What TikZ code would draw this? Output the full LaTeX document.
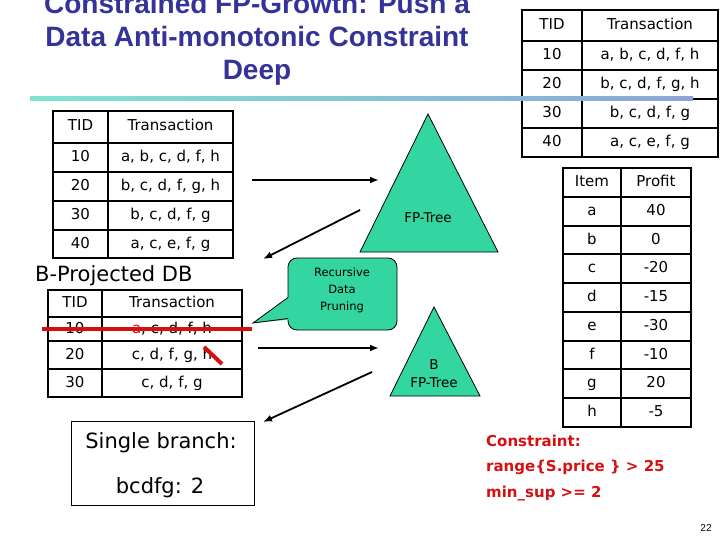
\documentclass[tikz,border=0pt]{standalone}
\usepackage{fontspec}
\setmainfont{DejaVu Sans}
\newfontfamily\titlefont{Liberation Sans}
\usetikzlibrary{arrows.meta}
\definecolor{titleblue}{RGB}{51,51,153}
\definecolor{tealfill}{RGB}{51,214,160}
\definecolor{redc}{RGB}{214,16,16}
\definecolor{lineA}{RGB}{128,228,208}
\definecolor{lineB}{RGB}{140,165,215}
\tikzset{
  titlestyle/.style={font=\titlefont\bfseries\fontsize{28}{32}\selectfont, text=titleblue, inner sep=0pt, anchor=base},
  tbl/.style={font=\fontsize{15}{18}\selectfont, inner sep=0pt, text height=11pt, text depth=3pt, anchor=center},
  outerln/.style={line width=2.2pt, black},
  innerln/.style={line width=1.5pt, black},
  arr/.style={line width=1.8pt, -{Latex[length=9pt,width=7pt]}},
  tri/.style={fill=tealfill, draw=black, line width=0.8pt},
  trilabel/.style={font=\fontsize{13.5}{18}\selectfont, inner sep=0pt, align=center},
  calltext/.style={font=\fontsize{11.5}{17}\selectfont, inner sep=0pt, align=center},
  bigtext/.style={font=\fontsize{21}{25}\selectfont, inner sep=0pt},
  constr/.style={font=\bfseries\fontsize{15}{18}\selectfont, text=redc, inner sep=0pt, anchor=west},
  redstrike/.style={line width=4pt, redc},
}
\begin{document}
\begin{tikzpicture}[x=1pt,y=-1pt]
\useasboundingbox[fill=white] (0,0) rectangle (720,540);

% ---------- title ----------
\node[titlestyle] (t1) at (257,14) {Constrained FP-Growth: Push a};
\node[titlestyle] (t2) at (257,47) {Data Anti-monotonic Constraint};
\node[titlestyle] (t3) at (257,80) {Deep};

% ---------- top-right table ----------
\fill[white] (522,10) rectangle (718,157);
\foreach \y in {41,70,99,128} \draw[innerln] (522,\y) -- (718,\y);
\draw[innerln] (582,10) -- (582,157);
\draw[outerln] (522,10) rectangle (718,157);
\foreach \yc/\a/\b [count=\i] in {25.5/TID/Transaction,55.5/10/{a, b, c, d, f, h},84.5/20/{b, c, d, f, g, h},113.5/30/{b, c, d, f, g},142.5/40/{a, c, e, f, g}} {
  \node[tbl] (ra\i) at (552,\yc) {\a};
  \node[tbl] (rb\i) at (650,\yc) {\b};
}

% ---------- gradient rule ----------
\shade[left color=lineA, right color=lineB] (30,97) rectangle (693,100.5);

% ---------- top-left table ----------
\fill[white] (53,111) rectangle (233,258);
\foreach \y in {143,172,201,230} \draw[innerln] (53,\y) -- (233,\y);
\draw[innerln] (108,111) -- (108,258);
\draw[outerln] (53,111) rectangle (233,258);
\foreach \yc/\a/\b [count=\i] in {127/TID/Transaction,157.5/10/{a, b, c, d, f, h},186.5/20/{b, c, d, f, g, h},215.5/30/{b, c, d, f, g},244/40/{a, c, e, f, g}} {
  \node[tbl] (la\i) at (80.5,\yc) {\a};
  \node[tbl] (lb\i) at (170.5,\yc) {\b};
}

% ---------- B-projected DB ----------
\node[bigtext, anchor=west] (bproj) at (35,276) {B-Projected DB};
\fill[white] (48,290) rectangle (242,397);
\foreach \y in {317,341,369} \draw[innerln] (48,\y) -- (242,\y);
\draw[innerln] (102,290) -- (102,397);
\draw[outerln] (48,290) rectangle (242,397);
\foreach \yc/\a/\b [count=\i] in {303.5/TID/Transaction,329.5/10/{\textcolor{redc}{a}, c, d, f, h},355.5/20/{c, d, f, g, h},383/30/{c, d, f, g}} {
  \node[tbl] (ba\i) at (75,\yc) {\a};
  \node[tbl] (bb\i) at (172,\yc) {\b};
}
\coordinate (rs1) at (42,329);
\coordinate (rs2) at (252,329);
\draw[redstrike] (rs1) -- (rs2);
\coordinate (sl1) at (204,347);
\coordinate (sl2) at (222,364);
\draw[redstrike] (sl1) -- (sl2);

% ---------- triangles ----------
\draw[tri] (428,114) -- (498,252) -- (360,252) -- cycle;
\node[trilabel] (fptree) at (428,218) {FP-Tree};
\draw[tri] (434,307) -- (480,396) -- (390,396) -- cycle;
\node[trilabel] (bfptree) at (434,374) {B\\FP-Tree};

% ---------- callout ----------
\draw[fill=tealfill, draw=black, line width=0.8pt, rounded corners=9pt] (288,258) rectangle (397,330);
\coordinate (ctip) at (253,323);
\fill[tealfill] (290,296.5) -- (ctip) -- (290,319.5) -- cycle;
\draw[line width=0.8pt] (288,297.5) -- (ctip) -- (288,318.5);
\node[calltext] (callout) at (342,290) {Recursive\\Data\\Pruning};

% ---------- arrows ----------
\coordinate (a1s) at (252,180);
\coordinate (a1e) at (379,180);
\draw[arr] (a1s) -- (a1e);
\coordinate (a2s) at (360,210);
\coordinate (a2e) at (263,259);
\draw[arr] (a2s) -- (a2e);
\coordinate (a3s) at (258,348);
\coordinate (a3e) at (379,348);
\draw[arr] (a3s) -- (a3e);
\coordinate (a4s) at (372,372);
\coordinate (a4e) at (263,422);
\draw[arr] (a4s) -- (a4e);

% ---------- single branch box ----------
\draw[line width=0.9pt] (71,421) rectangle (254,505);
\node[bigtext] (sb1) at (161,443) {Single branch:};
\node[bigtext] (sb2) at (160,488) {bcdfg: 2};

% ---------- profit table ----------
\fill[white] (563,168) rectangle (691,427);
\foreach \y in {197,226,254,283,312,341,369,398} \draw[innerln] (563,\y) -- (691,\y);
\draw[innerln] (621,168) -- (621,427);
\draw[outerln] (563,168) rectangle (691,427);
\foreach \yc/\a/\b [count=\i] in {182.5/Item/Profit,211.5/a/40,240/b/0,268.5/c/-20,297.5/d/-15,326.5/e/-30,355/f/-10,383.5/g/20,412.5/h/-5} {
  \node[tbl] (pa\i) at (592,\yc) {\a};
  \node[tbl] (pb\i) at (656,\yc) {\b};
}

% ---------- constraint ----------
\node[constr] (c1) at (486,441) {Constraint:};
\node[constr] (c2) at (486,467) {range\{S.price \} > 25};
\node[constr] (c3) at (486,494) {min\_sup >= 2};

% ---------- page number ----------
\node[font=\titlefont\fontsize{10}{12}\selectfont, inner sep=0pt] (pg) at (706,528) {22};
\end{tikzpicture}
\end{document}
